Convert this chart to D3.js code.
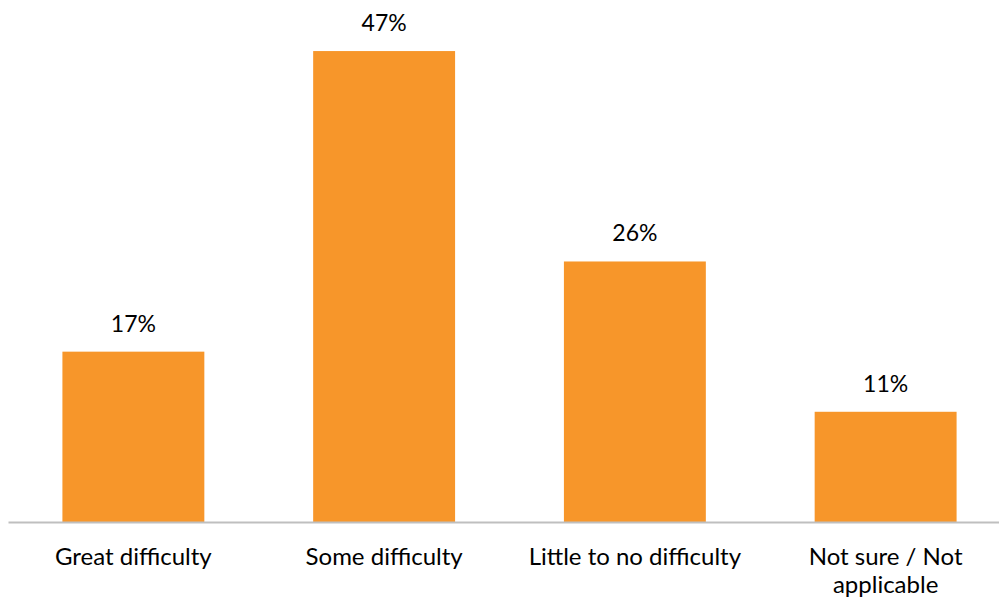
<!DOCTYPE html>
<html>
<head>
<meta charset="utf-8">
<script src="https://cdn.jsdelivr.net/npm/d3@7"></script>
<style>
  html, body { margin: 0; padding: 0; background: #fff; }
  svg { display: block; }
  text { font-family: "Lato", "Open Sans", sans-serif; fill: #000; }
</style>
</head>
<body>
<svg id="chart" width="999" height="601"></svg>
<script>
const categories = ["Great difficulty", "Some difficulty", "Little to no difficulty", "Not sure / Not applicable"];
const values = [17, 47, 26, 11];
// Line breaks used for the category labels under the axis
const categoryLines = [["Great difficulty"], ["Some difficulty"], ["Little to no difficulty"], ["Not sure / Not", "applicable"]];

const svg = d3.select("#chart");

const x = d3.scaleBand()
  .domain(categories)
  .range([8, 1011])
  .paddingInner(0.434)
  .paddingOuter(0.217);

const y = d3.scaleLinear()
  .domain([0, 50])
  .range([522, 21]);

const data = categories.map((c, i) => ({ c, v: values[i], lines: categoryLines[i] }));

// bars
svg.append("g").selectAll("rect")
  .data(data)
  .join("rect")
  .attr("x", d => x(d.c))
  .attr("y", d => y(d.v))
  .attr("width", x.bandwidth())
  .attr("height", d => y(0) - y(d.v))
  .attr("fill", "#F7962A");

// baseline axis
const axis = d3.axisBottom(x).tickSize(0).tickFormat("");
const axisG = svg.append("g")
  .attr("transform", `translate(0,${y(0)})`)
  .call(axis);
axisG.select(".domain").attr("stroke", "#BFBFBF").attr("stroke-width", 2);

// value labels
svg.append("g").selectAll("text")
  .data(data)
  .join("text")
  .attr("x", d => x(d.c) + x.bandwidth() / 2)
  .attr("y", d => y(d.v) - 20)
  .attr("text-anchor", "middle")
  .attr("font-size", 23)
  .text(d => d.v + "%");

// category labels
const cat = svg.append("g").selectAll("text")
  .data(data)
  .join("text")
  .attr("x", d => x(d.c) + x.bandwidth() / 2)
  .attr("y", 565)
  .attr("text-anchor", "middle")
  .attr("font-size", 24);
cat.selectAll("tspan")
  .data(d => d.lines.map(l => ({ l, cx: x(d.c) + x.bandwidth() / 2 })))
  .join("tspan")
  .attr("x", t => t.cx)
  .attr("dy", (t, i) => i === 0 ? 0 : 28)
  .text(t => t.l);
</script>
</body>
</html>
